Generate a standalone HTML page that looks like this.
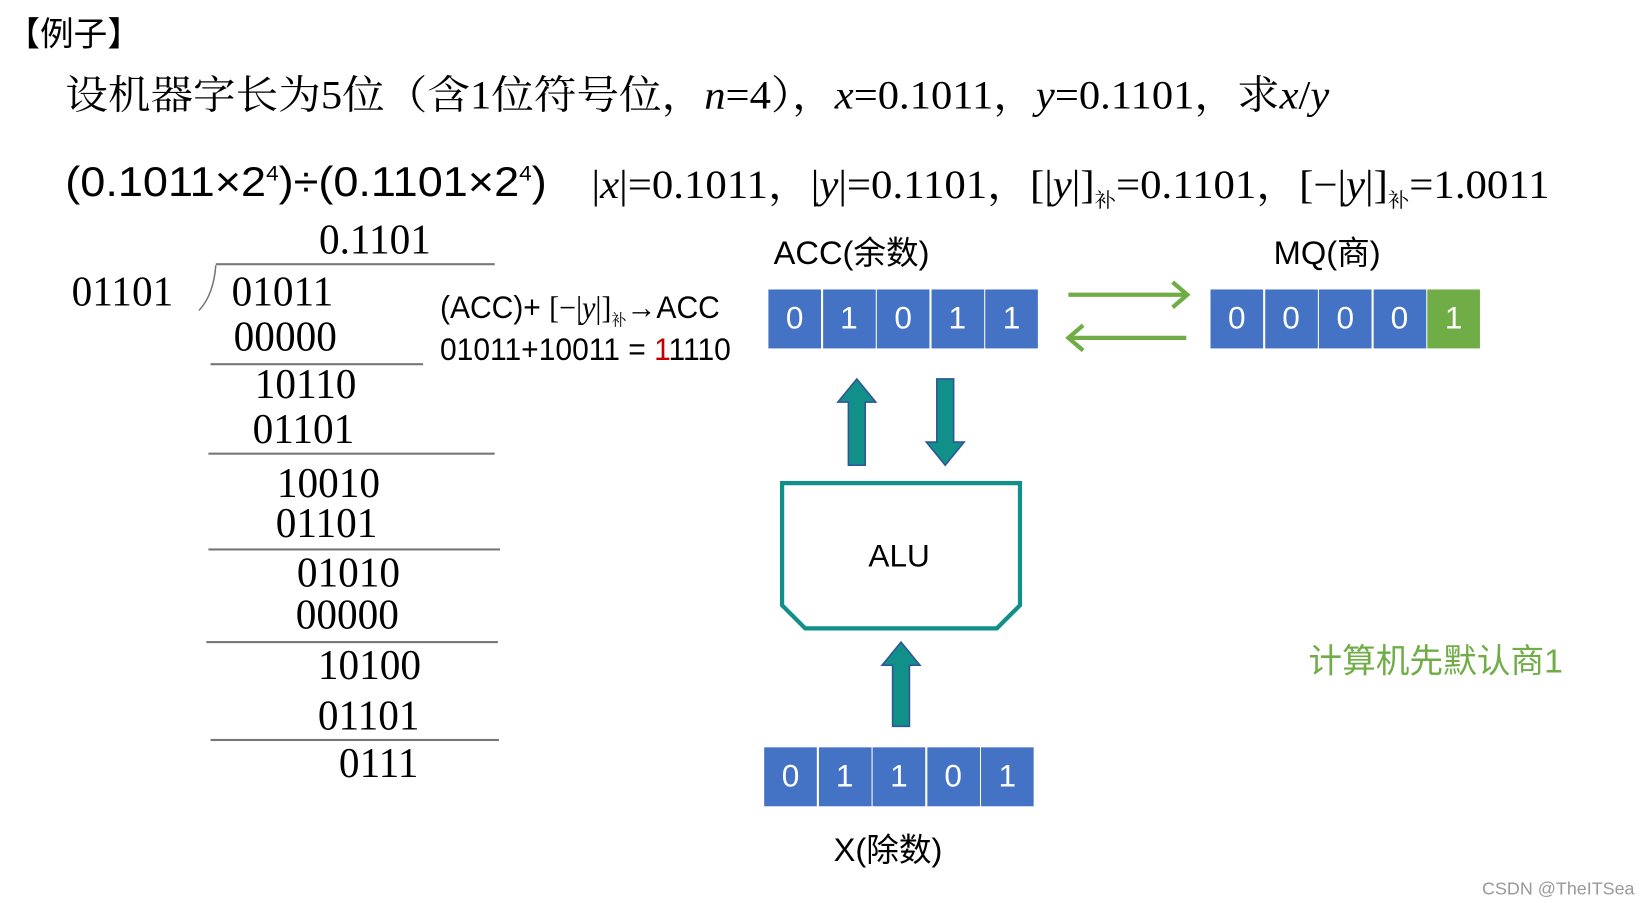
<!DOCTYPE html>
<html><head><meta charset="utf-8">
<style>
html,body{margin:0;padding:0;background:#fff;width:1642px;height:903px;overflow:hidden}
#w{position:absolute;left:0;top:0;width:1560px;height:858px;transform:scale(1.0526);transform-origin:0 0}
.t{position:absolute;white-space:nowrap;line-height:1;color:#000}
.s{font-family:"Liberation Serif","Noto Serif CJK SC",serif}
.a{font-family:"Liberation Sans","Noto Sans CJK SC",sans-serif}
.n{font-family:"Liberation Serif",serif;font-size:40px;transform:scaleX(0.98);transform-origin:0 0}
.hl{position:absolute;height:1.5px;background:#777}
.row{position:absolute;display:flex;height:56px}
.row div{width:50px;height:56px;margin-right:1.5px;background:#4472C4;color:#fff;font:30px "Liberation Sans",sans-serif;display:flex;align-items:center;justify-content:center}
i{font-style:italic}
sub{font-size:0.5em}
</style></head><body><div id="w">
<div class="t a" style="left:6px;top:16px;font-size:32px">【例子】</div>
<div class="t s" style="left:62px;top:72px;font-size:38px;transform:scaleX(1.065);transform-origin:0 0">设机器字长为5位（含1位符号位，<i>n</i>=4），<i>x</i>=0.1011，<i>y</i>=0.1101，求<i>x</i>/<i>y</i></div>
<div class="t a" style="left:62px;top:153px;font-size:40px;transform:scaleX(1.07);transform-origin:0 0">(0.1011×2<sup style="font-size:20px">4</sup>)÷(0.1101×2<sup style="font-size:20px">4</sup>)</div>
<div class="t s" style="left:562px;top:157px;font-size:38px;transform:scaleX(1.07);transform-origin:0 0">|<i>x</i>|=0.1011，|<i>y</i>|=0.1101，[|<i>y</i>|]<sub>补</sub>=0.1101，[−|<i>y</i>|]<sub>补</sub>=1.0011</div>

<div class="t n" style="left:303px;top:208px">0.1101</div>
<div class="hl" style="left:205px;top:250px;width:265px"></div>
<svg style="position:absolute;left:185px;top:250px" width="25" height="50"><path d="M20 2 Q18 30 4 45" stroke="#777" stroke-width="1.5" fill="none"/></svg>
<div class="t n" style="left:68px;top:257px">01101</div>
<div class="t n" style="left:220px;top:257px">01011</div>
<div class="t n" style="left:222px;top:300px">00000</div>
<div class="hl" style="left:200px;top:345px;width:202px"></div>
<div class="t n" style="left:242px;top:345px">10110</div>
<div class="t n" style="left:240px;top:388px">01101</div>
<div class="hl" style="left:198px;top:430px;width:272px"></div>
<div class="t n" style="left:263px;top:439px">10010</div>
<div class="t n" style="left:262px;top:477px">01101</div>
<div class="hl" style="left:198px;top:521px;width:277px"></div>
<div class="t n" style="left:282px;top:524px">01010</div>
<div class="t n" style="left:281px;top:564px">00000</div>
<div class="hl" style="left:196px;top:609px;width:277px"></div>
<div class="t n" style="left:302px;top:612px">10100</div>
<div class="t n" style="left:302px;top:660px">01101</div>
<div class="hl" style="left:200px;top:702px;width:274px"></div>
<div class="t n" style="left:322px;top:705px">0111</div>

<div class="t a" style="left:418px;top:278px;font-size:30px;transform:scaleX(0.95);transform-origin:0 0">(ACC)+ <span class="s">[−|<i>y</i>|]<sub>补</sub></span><b>→</b>ACC</div>
<div class="t a" style="left:418px;top:318px;font-size:30px;transform:scaleX(0.95);transform-origin:0 0">01011+10011 = <span style="color:#c00000">1</span>1110</div>

<div class="t a" style="left:735px;top:225px;font-size:31px">ACC(余数)</div>
<div class="t a" style="left:1210px;top:225px;font-size:31px">MQ(商)</div>
<div class="row" style="left:730px;top:275px"><div>0</div><div>1</div><div>0</div><div>1</div><div>1</div></div>
<div class="row" style="left:1150px;top:275px"><div>0</div><div>0</div><div>0</div><div>0</div><div style="background:#70AD47">1</div></div>
<div class="row" style="left:726px;top:710px"><div>0</div><div>1</div><div>1</div><div>0</div><div>1</div></div>

<svg style="position:absolute;left:0;top:0" width="1560" height="858">
<g stroke="#70AD47" stroke-width="4" fill="none">
<path d="M1015 280 H1128 M1114 268 L1128 280 L1114 292"/>
<path d="M1127 321 H1015 M1029 309 L1015 321 L1029 333"/>
</g>
<g fill="#11908A" stroke="#2F5597" stroke-width="1.5">
<path d="M806 442 V382 H796 L814 360 L832 382 H822 V442 Z"/>
<path d="M890 360 V420 H880 L898 442 L916 420 H906 V360 Z"/>
<path d="M848 690 V632 H838 L856 610 L874 632 H864 V690 Z"/>
</g>
<path d="M743 459 H969 V575 L947 597 H765 L743 575 Z" stroke="#11908A" stroke-width="4" fill="none"/>
</svg>
<div class="t a" style="left:825px;top:514px;font-size:30px">ALU</div>
<div class="t a" style="left:792px;top:792px;font-size:31px">X(除数)</div>
<div class="t a" style="left:1243px;top:612px;font-size:32px;color:#70AD47">计算机先默认商1</div>
<div class="t a" style="left:1408px;top:836px;font-size:17px;color:#999">CSDN @TheITSea</div>
</div></body></html>
